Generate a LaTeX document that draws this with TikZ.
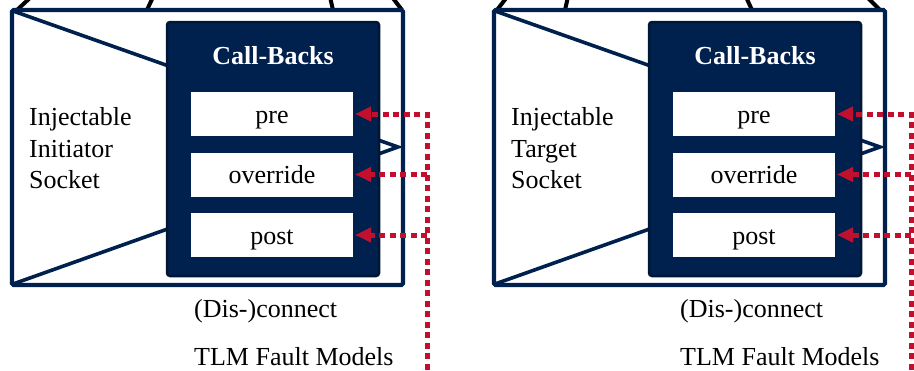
\documentclass[tikz,border=0pt]{standalone}
\usepackage{fontspec}
\setmainfont{Liberation Serif}
\usetikzlibrary{arrows.meta}
\definecolor{navy}{HTML}{00204E}
\definecolor{navyedge}{HTML}{001636}
\definecolor{faultred}{HTML}{C0102E}

\begin{document}
\begin{tikzpicture}[x=1pt,y=-1pt,
  every node/.style={font=\fontsize{26}{31}\selectfont, inner sep=0pt},
  socketframe/.style={draw=navy, line width=4.2pt, rounded corners=1.5pt},
  socketwedge/.style={draw=navy, line width=3.6pt, line join=miter},
  cbpanel/.style={fill=navy, draw=navyedge, line width=2.5pt, rounded corners=3pt,
    minimum width=212pt, minimum height=254pt},
  cbtitle/.style={text=white, font=\fontsize{26}{31}\selectfont\bfseries, anchor=base},
  cbslot/.style={fill=white, minimum width=162pt, minimum height=44pt,
    text height=18pt, text depth=0pt, outer sep=2pt},
  lbl/.style={anchor=base west},
  hookline/.style={draw=black, line width=4pt},
  faultlink/.style={draw=faultred, line width=5pt, dash pattern=on 6pt off 4.5pt},
  faultarrow/.style={faultlink, -{Triangle[length=16pt,width=14pt]}},
]
\useasboundingbox (0,0) rectangle (914,370);
\clip (0,0) rectangle (914,370);

% bindings leaving the sockets through the top edge
\draw[hookline] (17,10) -- (31,-3);
\draw[hookline] (147,10) -- (153,-3);
\draw[hookline] (333,10) -- (330,-3);
\draw[hookline] (402,10) -- (392,-3);
\draw[hookline] (497,10) -- (507,-3);
\draw[hookline] (565,10) -- (568,-3);
\draw[hookline] (752,10) -- (746,-3);
\draw[hookline] (880,10) -- (867,-3);

% one injectable socket with its call-back panel
\foreach \side/\dx/\role/\tx/\rx in {L/0/Initiator/194/427, R/482/Target/198/429}{
  \begin{scope}[xshift=\dx pt]
    \draw[socketframe] (12,10) rectangle (403,285);
    \coordinate (tip\side) at (398,147);
    \draw[socketwedge] (13,11) -- (tip\side) -- (13,284);
    \node[cbpanel] (panel\side) at (273,149) {};
    \node[cbtitle] (title\side) at (273,64.5) {Call-Backs};
    \node[cbslot] (pre\side) at (272,114) {pre};
    \node[cbslot] (ovr\side) at (272,174.5) {override};
    \node[cbslot] (post\side) at (272,235) {post};
    \node[lbl] (inj\side) at (29,125) {Injectable};
    \node[lbl] (role\side) at (29,157) {\role};
    \node[lbl] (sock\side) at (29,188.5) {Socket};
    \node[lbl] (dis\side) at (\tx,317) {(Dis-)connect};
    \node[lbl] (tlm\side) at (\tx,365.5) {TLM Fault Models};
    % fault model hooks into the call-backs
    \coordinate (drop\side) at (\rx,380);
    \draw[faultarrow] (drop\side) |- (pre\side.east);
    \draw[faultarrow] (drop\side |- ovr\side.east) -- (ovr\side.east);
    \draw[faultarrow] (drop\side |- post\side.east) -- (post\side.east);
  \end{scope}
}
\end{tikzpicture}
\end{document}
